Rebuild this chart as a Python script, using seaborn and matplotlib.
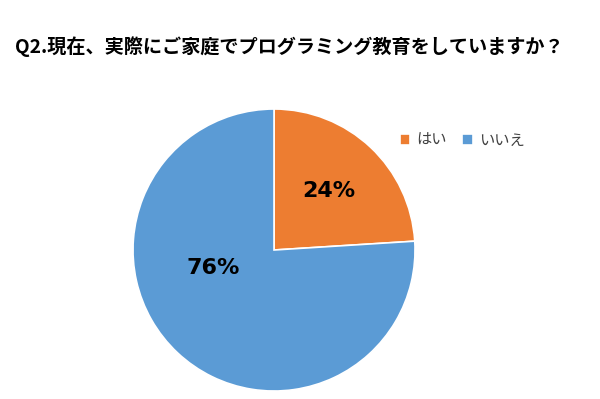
import numpy as np
import matplotlib
matplotlib.use("Agg")
import matplotlib.pyplot as plt
import seaborn as sns

# data
labels = ["はい", "いいえ"]
values = [24, 76]
colors = sns.color_palette(["#ED7D31", "#5B9BD5"])
title = "Q2.現在、実際にご家庭でプログラミング教育をしていますか？"

sns.set_theme(style="white")
plt.rcParams['font.family'] = ['Noto Sans CJK JP', 'DejaVu Sans']

fig = plt.figure(figsize=(6, 3.99), dpi=100)
fig.patch.set_facecolor("white")

ax = fig.add_axes([0.2217, 0.02, 0.47, 0.7068])
wedges, texts, pcts = ax.pie(values, colors=colors, startangle=90, counterclock=False,
                             autopct='%d%%', pctdistance=0.57,
                             wedgeprops=dict(edgecolor='white', linewidth=1.2),
                             textprops=dict(fontsize=16, fontweight='bold', color='black',
                                            family=['DejaVu Sans']))
ax.set_aspect('equal')
ax.set_xlim(-1.0, 1.0)
ax.set_ylim(-1.0, 1.0)
# move the big slice label to where the original has it
pcts[1].set_position((-0.43, -0.13))

fig.text(0.025, 0.882, title, fontsize=13.8, fontweight='bold', color='black',
         ha='left', va='center')

leg = fig.legend(wedges, labels, loc='center left', bbox_to_anchor=(0.643, 0.649),
                 ncol=2, frameon=False, handlelength=0.7, handleheight=0.7,
                 handletextpad=0.4, columnspacing=1.0, fontsize=11)
for t in leg.get_texts():
    t.set_color('#404040')

fig.savefig("out.png", dpi=100)
